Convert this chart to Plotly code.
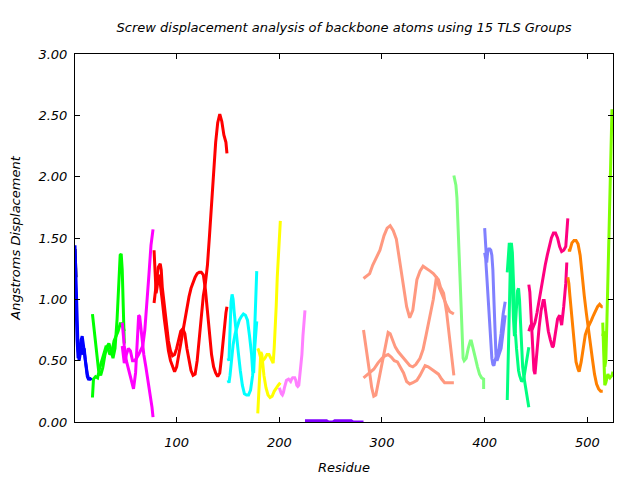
import plotly.graph_objects as go

# ---- data (residue, screw displacement) per TLS group / trace ----
res_black = [1, 2]
val_black = [1.41, 1.18]

res_blue = [1, 2, 3, 4, 5, 6, 7, 8, 9, 10, 11, 12, 13, 14, 15, 16, 17]
val_blue_a = [1.44, 1.18, 0.75, 0.6, 0.5, 0.55, 0.67, 0.7, 0.64, 0.58, 0.49, 0.42, 0.37, 0.35, 0.35, 0.35, 0.36]
val_blue_b = [1.28, 0.93, 0.67, 0.52, 0.57, 0.64, 0.6, 0.55, 0.58, 0.6, 0.51, 0.44, 0.39, 0.36, 0.35, 0.35, 0.36]

res_green_a = [18, 20, 22, 24, 26, 28, 30, 32, 34, 36, 38, 40, 42, 44, 45, 46, 47, 48, 49]
val_green_a = [0.88, 0.74, 0.55, 0.42, 0.38, 0.44, 0.54, 0.61, 0.64, 0.59, 0.52, 0.6, 0.84, 1.18, 1.36, 1.37, 1.24, 0.94, 0.64]
res_green_b = [18, 19, 21, 23, 25, 27, 29, 31, 33, 35, 37, 39, 41, 43, 45, 47, 49]
val_green_b = [0.2, 0.35, 0.37, 0.36, 0.44, 0.5, 0.55, 0.61, 0.6, 0.55, 0.57, 0.66, 0.7, 0.74, 0.8, 0.8, 0.74]

res_magenta_a = [47, 49, 51, 53, 55, 57, 58, 60, 62, 63, 64, 66, 68, 70, 72, 74, 76, 77]
val_magenta_a = [0.81, 0.62, 0.5, 0.44, 0.37, 0.3, 0.27, 0.4, 0.74, 0.87, 0.86, 0.7, 0.55, 0.45, 0.35, 0.25, 0.12, 0.04]
res_magenta_b = [47, 49, 51, 53, 55, 57, 59, 61, 63, 65, 67, 69, 71, 73, 75, 77]
val_magenta_b = [0.62, 0.48, 0.55, 0.6, 0.58, 0.5, 0.5, 0.52, 0.55, 0.58, 0.62, 0.75, 0.95, 1.2, 1.44, 1.57]

res_red_a = [78, 79, 80, 81, 82, 83, 84, 86, 88, 90, 92, 94, 96, 98, 100, 102, 104, 106, 108, 110,
             112, 114, 116, 118, 120, 122, 124, 126, 128, 130, 132, 134, 136, 138, 140, 142, 144, 146, 148, 149]
val_red_a = [1.4, 1.2, 1.05, 1.1, 1.18, 1.2, 1.14, 0.99, 0.84, 0.7, 0.58, 0.5, 0.45, 0.41, 0.45, 0.55, 0.65, 0.75, 0.85, 0.94,
             1.02, 1.09, 1.14, 1.18, 1.21, 1.22, 1.22, 1.2, 1.08, 0.89, 0.7, 0.55, 0.45, 0.4, 0.37, 0.4, 0.55, 0.74, 0.89, 0.94]
res_red_b = [78, 80, 82, 84, 85, 86, 88, 90, 92, 94, 96, 98, 100, 102, 104, 106, 108, 110, 112, 114,
             116, 118, 120, 122, 124, 126, 128, 130, 132, 134, 136, 138, 140, 142, 144, 146, 148, 149]
val_red_b = [0.97, 1.14, 1.26, 1.29, 1.24, 1.1, 0.94, 0.8, 0.66, 0.58, 0.54, 0.55, 0.6, 0.67, 0.74, 0.76, 0.72, 0.6, 0.5, 0.42,
             0.38, 0.39, 0.5, 0.68, 0.88, 1.03, 1.13, 1.28, 1.52, 1.8, 2.07, 2.28, 2.44, 2.51, 2.45, 2.34, 2.28, 2.19]

res_cyan_a = [150, 151, 152, 153, 154, 155, 156, 157, 158, 160, 162, 164, 166, 168, 170, 172, 174, 175, 176, 177, 178]
val_cyan_a = [0.52, 0.5, 0.75, 0.98, 1.04, 1.0, 0.9, 0.8, 0.7, 0.57, 0.42, 0.3, 0.23, 0.22, 0.22, 0.26, 0.38, 0.5, 0.75, 1.0, 1.23]
res_cyan_b = [150, 151, 152, 153, 155, 157, 159, 161, 163, 165, 167, 169, 171, 173, 174, 175, 176, 177, 178]
val_cyan_b = [0.34, 0.32, 0.38, 0.48, 0.63, 0.72, 0.78, 0.83, 0.86, 0.88, 0.87, 0.83, 0.7, 0.55, 0.42, 0.4, 0.6, 0.7, 0.82]

res_yellow_a = [179, 180, 181, 182, 183, 184, 185, 187, 189, 191, 193, 195, 197, 199, 201]
val_yellow_a = [0.07, 0.25, 0.45, 0.57, 0.55, 0.45, 0.38, 0.28, 0.22, 0.2, 0.21, 0.25, 0.28, 0.3, 0.32]
res_yellow_b = [179, 180, 182, 184, 186, 188, 190, 192, 194, 195, 196, 197, 198, 199, 200, 201]
val_yellow_b = [0.6, 0.58, 0.52, 0.5, 0.52, 0.55, 0.55, 0.52, 0.48, 0.6, 0.75, 0.95, 1.18, 1.35, 1.52, 1.64]

res_pink = [200, 201, 202, 203, 204, 205, 206, 207, 209, 211, 212, 213, 215, 216, 217, 218, 219, 220, 221, 222, 223, 224, 225]
val_pink = [0.28, 0.25, 0.23, 0.22, 0.24, 0.28, 0.32, 0.34, 0.35, 0.33, 0.35, 0.36, 0.36, 0.34, 0.3, 0.29, 0.3, 0.38, 0.45, 0.55, 0.7, 0.82, 0.91]

res_purple = [225, 230, 235, 240, 246, 248, 252, 254, 260, 265, 270, 272, 278, 282]
val_purple = [0.01, 0.01, 0.01, 0.01, 0.01, 0.0, 0.0, 0.01, 0.01, 0.01, 0.01, 0.0, 0.0, 0.0]

res_salmon_a = [282, 285, 288, 291, 294, 298, 302, 305, 308, 311, 314, 317, 321, 324, 327, 330, 334, 337, 340, 344,
                347, 350, 353, 356, 360, 363, 366, 370]
val_salmon_a = [1.17, 1.19, 1.21, 1.28, 1.33, 1.4, 1.52, 1.58, 1.6, 1.56, 1.49, 1.33, 1.11, 0.94, 0.85, 0.91, 1.16, 1.23, 1.27, 1.25,
                1.23, 1.21, 1.18, 1.09, 1.0, 0.95, 0.9, 0.88]
res_salmon_b = [282, 285, 288, 290, 292, 294, 296, 298, 300, 303, 306, 308, 310, 313, 316, 320, 324, 327, 330, 333,
                337, 340, 343, 347, 350, 353, 355, 357, 360, 363, 366, 368, 370]
val_salmon_b = [0.75, 0.59, 0.4, 0.28, 0.21, 0.22, 0.3, 0.4, 0.46, 0.59, 0.73, 0.72, 0.67, 0.61, 0.57, 0.53, 0.49, 0.46, 0.45, 0.47,
                0.52, 0.59, 0.71, 0.86, 1.0, 1.18, 1.16, 1.1, 1.05, 0.89, 0.67, 0.5, 0.38]
res_salmon_c = [282, 285, 288, 292, 296, 300, 303, 306, 309, 312, 315, 318, 321, 324, 327, 330, 334, 337, 340, 342,
                345, 348, 352, 355, 358, 361, 365, 370]
val_salmon_c = [0.36, 0.38, 0.4, 0.43, 0.48, 0.52, 0.54, 0.55, 0.53, 0.5, 0.49, 0.45, 0.4, 0.33, 0.31, 0.32, 0.34, 0.38, 0.43, 0.46,
                0.45, 0.43, 0.41, 0.39, 0.35, 0.32, 0.32, 0.32]

res_lgreen = [370, 371, 372, 373, 374, 375, 376, 377, 378, 379, 380, 382, 384, 386, 387, 389, 391, 393, 395, 397, 399, 399]
val_lgreen = [2.01, 1.98, 1.93, 1.83, 1.6, 1.4, 1.1, 0.85, 0.65, 0.52, 0.5, 0.52, 0.6, 0.66, 0.66, 0.6, 0.52, 0.45, 0.39, 0.36, 0.35, 0.27]

res_slate_a = [400, 401, 402, 403, 404, 405, 406, 407, 408, 409, 410, 411, 412, 413, 414, 416, 418, 420]
val_slate_a = [1.58, 1.37, 1.3, 1.39, 1.41, 1.41, 1.4, 1.36, 1.24, 1.0, 0.75, 0.55, 0.5, 0.52, 0.55, 0.6, 0.74, 0.87]
res_slate_b = [400, 401, 402, 403, 404, 405, 406, 407, 408, 409, 410, 412, 414, 416, 418, 420]
val_slate_b = [1.38, 1.33, 1.2, 1.05, 0.88, 0.72, 0.6, 0.52, 0.47, 0.46, 0.5, 0.55, 0.6, 0.72, 0.88, 0.98]

res_spring_a = [422, 423, 424, 425, 426, 427, 428, 429, 430, 431, 432, 433, 434, 436, 438, 440, 442, 443]
val_spring_a = [0.18, 0.45, 0.9, 1.28, 1.46, 1.38, 1.14, 0.9, 0.72, 0.6, 0.5, 0.42, 0.38, 0.33, 0.35, 0.45, 0.55, 0.61]
res_spring_b = [422, 423, 424, 425, 426, 427, 428, 429, 430, 431, 432, 433, 434, 435, 436, 437, 438, 439, 440, 441, 442, 443]
val_spring_b = [1.22, 1.34, 1.46, 1.4, 1.28, 1.08, 0.85, 0.7, 0.8, 0.99, 1.07, 1.09, 0.99, 0.8, 0.6, 0.45, 0.38, 0.32, 0.28, 0.2, 0.15, 0.12]

res_dpink_a = [443, 444, 445, 446, 447, 448, 449, 450, 451, 453, 455, 457, 458, 460, 462, 464, 466, 467, 469, 471, 473, 475, 477, 479, 480]
val_dpink_a = [1.12, 1.06, 0.9, 0.75, 0.55, 0.42, 0.39, 0.49, 0.59, 0.77, 0.91, 0.99, 0.99, 0.87, 0.74, 0.67, 0.61, 0.62, 0.74, 0.84, 0.87, 0.79, 0.94, 1.13, 1.3]
res_dpink_b = [443, 445, 447, 449, 451, 453, 455, 457, 459, 461, 463, 465, 467, 469, 471, 473, 475, 477, 479, 480, 481]
val_dpink_b = [0.74, 0.79, 0.77, 0.81, 0.89, 0.99, 1.1, 1.18, 1.28, 1.36, 1.43, 1.5, 1.54, 1.54, 1.5, 1.43, 1.39, 1.4, 1.43, 1.58, 1.66]

res_orange_a = [481, 483, 485, 487, 489, 491, 493, 495, 497, 499, 501, 503, 505, 507, 509, 511, 513, 515]
val_orange_a = [1.4, 1.4, 1.46, 1.48, 1.48, 1.45, 1.36, 1.18, 1.03, 0.89, 0.75, 0.63, 0.51, 0.39, 0.31, 0.27, 0.25, 0.25]
res_orange_b = [481, 482, 483, 485, 487, 489, 491, 492, 494, 496, 498, 500, 502, 504, 506, 508, 510, 512, 514, 515]
val_orange_b = [1.18, 1.13, 1.03, 0.84, 0.64, 0.49, 0.43, 0.41, 0.49, 0.61, 0.71, 0.76, 0.79, 0.83, 0.87, 0.91, 0.94, 0.96, 0.94, 0.94]

res_chart_a = [515, 516, 517, 518, 519, 520, 521, 522, 523, 524, 525]
val_chart_a = [0.81, 0.6, 0.3, 0.32, 0.37, 0.39, 0.37, 0.36, 0.37, 0.38, 0.41]
res_chart_b = [515, 516, 517, 518, 519, 520, 521, 522, 523, 524]
val_chart_b = [0.7, 0.74, 0.45, 0.5, 0.8, 1.18, 1.53, 1.92, 2.27, 2.55]

series = [
    (res_black, val_black, "#000000"),
    (res_blue, val_blue_a, "#0000ff"), (res_blue, val_blue_b, "#0000ff"),
    (res_green_a, val_green_a, "#00ff00"), (res_green_b, val_green_b, "#00ff00"),
    (res_magenta_a, val_magenta_a, "#ff00ff"), (res_magenta_b, val_magenta_b, "#ff00ff"),
    (res_red_a, val_red_a, "#ff0000"), (res_red_b, val_red_b, "#ff0000"),
    (res_cyan_a, val_cyan_a, "#00ffff"), (res_cyan_b, val_cyan_b, "#00ffff"),
    (res_yellow_a, val_yellow_a, "#ffff00"), (res_yellow_b, val_yellow_b, "#ffff00"),
    (res_pink, val_pink, "#ff80ff"),
    (res_purple, val_purple, "#8000ff"),
    (res_salmon_a, val_salmon_a, "#ff9980"), (res_salmon_b, val_salmon_b, "#ff9980"),
    (res_salmon_c, val_salmon_c, "#ff9980"),
    (res_lgreen, val_lgreen, "#80ff80"),
    (res_slate_a, val_slate_a, "#8080ff"), (res_slate_b, val_slate_b, "#8080ff"),
    (res_spring_a, val_spring_a, "#00ff80"), (res_spring_b, val_spring_b, "#00ff80"),
    (res_dpink_a, val_dpink_a, "#ff0080"), (res_dpink_b, val_dpink_b, "#ff0080"),
    (res_orange_a, val_orange_a, "#ff8000"), (res_orange_b, val_orange_b, "#ff8000"),
    (res_chart_a, val_chart_a, "#80ff00"), (res_chart_b, val_chart_b, "#80ff00"),
]

x_ticks = [100, 200, 300, 400, 500]
y_ticks = [0.0, 0.5, 1.0, 1.5, 2.0, 2.5, 3.0]

FONT = "DejaVu Sans, sans-serif"
TXT = dict(family=FONT, size=13, color="black", style="italic")

fig = go.Figure()
for xs, ys, col in series:
    fig.add_trace(go.Scatter(x=xs, y=ys, mode="lines",
                             line=dict(color=col, width=3), showlegend=False,
                             hoverinfo="skip"))

axis_common = dict(showgrid=False, zeroline=False, showline=True, linecolor="black",
                   linewidth=1, mirror="ticks", ticks="inside", ticklen=5,
                   tickcolor="black", tickfont=TXT)

fig.update_xaxes(range=[1, 525], tickvals=x_ticks, ticktext=[str(v) for v in x_ticks],
                 ticklabelstandoff=8,
                 title=dict(text="Residue", font=TXT, standoff=14),
                 **axis_common)
fig.update_yaxes(range=[0, 3], tickvals=y_ticks, ticktext=[f"{v:.2f}" for v in y_ticks],
                 ticklabelstandoff=4,
                 title=dict(text="Angstroms Displacement", font=TXT, standoff=22),
                 **axis_common)

fig.update_layout(
    width=640, height=480,
    margin=dict(l=67, r=35, t=46, b=66, autoexpand=False),
    paper_bgcolor="white", plot_bgcolor="white",
    title=dict(text="Screw displacement analysis of backbone atoms using 15 TLS Groups",
               x=0.525, xanchor="center", y=0.96, yanchor="middle",
               font=TXT),
)

fig.write_html("out.html")
